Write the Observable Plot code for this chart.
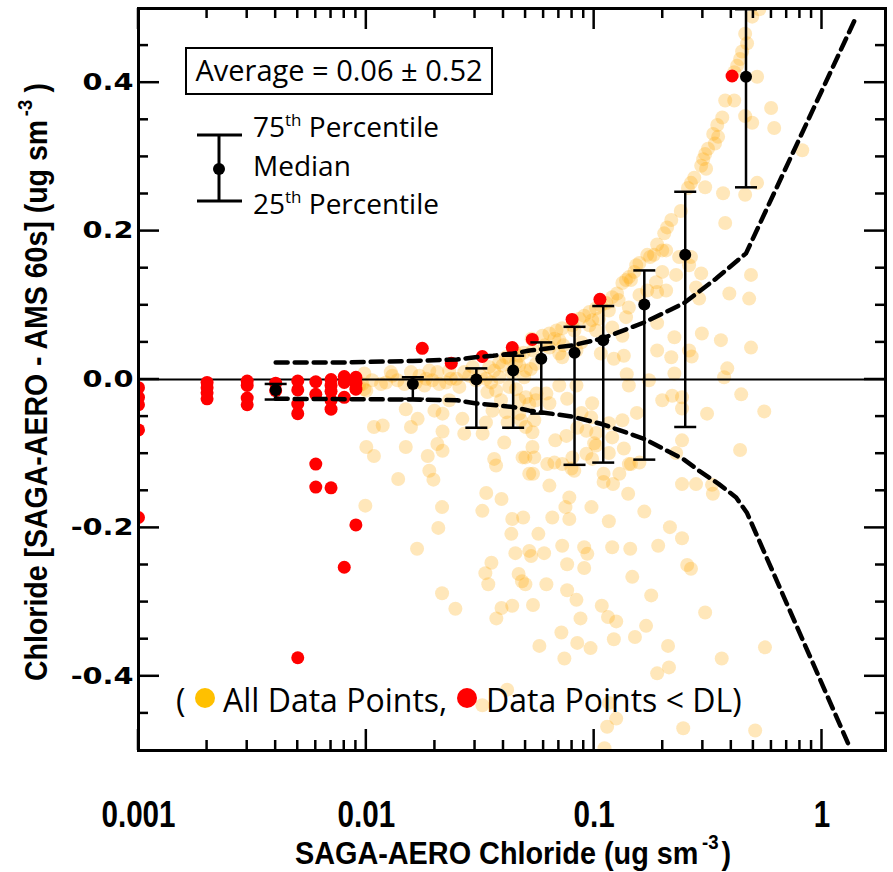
<!DOCTYPE html>
<html>
<head>
<meta charset="utf-8">
<script src="https://cdn.jsdelivr.net/npm/d3@7"></script>
<script src="https://cdn.jsdelivr.net/npm/@observablehq/plot@0.6"></script>
<style>
  html, body { margin: 0; padding: 0; background: white; }
</style>
</head>
<body>
<div id="chart"></div>
<script>
// ---- Data ----
// All data points (x = SAGA-AERO chloride, y = SAGA-AERO - AMS difference)
const allPts = [
[0.0098,0.008],[0.0098,-0.013],[0.0128,0.010],[0.0116,-0.006],[0.0137,-0.001],[0.0157,0.010],[0.0171,0.005],[0.0189,0.012],[0.0195,-0.001],[0.0205,0.010],
[0.0209,-0.006],[0.0180,-0.008],[0.0231,0.012],[0.0235,0.001],[0.0256,-0.010],[0.0269,0.010],[0.0283,0.005],[0.0293,0.017],[0.0335,0.001],[0.0346,0.017],
[0.0364,0.012],[0.0383,0.003],[0.0396,0.019],[0.0410,0.030],[0.0454,0.023],[0.0469,0.019],[0.0501,0.012],[0.0527,0.014],[0.0555,0.021],[0.0371,-0.015],
[0.0424,-0.010],[0.0454,-0.013],[0.0340,-0.017],[0.0390,-0.028],[0.0469,-0.028],[0.0501,-0.024],[0.0519,-0.033],[0.0555,-0.028],
[0.0108,-0.064],[0.0118,-0.062],[0.0157,-0.064],[0.0168,-0.053],[0.0149,-0.040],[0.0199,-0.042],[0.0216,-0.070],[0.0216,-0.046],[0.0231,-0.028],[0.0264,-0.053],
[0.0269,-0.073],[0.0324,-0.073],[0.0335,-0.058],[0.0358,-0.042],[0.0410,-0.044],[0.0417,-0.058],[0.0469,-0.046],[0.0477,-0.055],[0.0501,-0.064],[0.0536,-0.071],
[0.0546,-0.055],[0.0100,-0.091],[0.0108,-0.103],[0.0149,-0.091],[0.0186,-0.103],[0.0205,-0.087],[0.0216,-0.096],[0.0364,-0.107],[0.0403,-0.085],[0.0485,-0.105],
[0.0536,-0.091],[0.0546,-0.105],
[0.0093,-0.008],[0.0106,-0.001],[0.0122,-0.004],[0.0130,0.005],[0.0147,-0.006],[0.0165,-0.004],[0.0183,0.001],[0.0224,-0.004],[0.0248,0.001],[0.0303,-0.001],
[0.0318,0.005],[0.0353,-0.004],[0.0436,0.009],[0.0493,0.003],[0.0100,-0.015],[0.0096,-0.006],
[0.0189,-0.123],[0.0197,-0.135],[0.0138,-0.134],[0.0099,-0.170],[0.0215,-0.172],[0.0207,-0.200],[0.0371,-0.116],[0.0336,-0.153],[0.0392,-0.161],[0.0323,-0.177],
[0.0437,-0.188],[0.0519,-0.127],
[0.0433,-0.208],[0.0167,-0.228],[0.0354,-0.247],[0.0333,-0.261],[0.0343,-0.276],[0.0451,-0.234],[0.0466,-0.262],[0.0482,-0.272],[0.0215,-0.288],[0.0246,-0.309],
[0.0392,-0.308],[0.0437,-0.305],[0.0372,-0.322],[0.0415,-0.418],[0.0323,-0.439],
[0.0488,-0.186],[0.0519,-0.231],[0.0529,-0.238],[0.0569,-0.208],[0.0603,-0.234],[0.0499,-0.276],[0.0617,-0.276],[0.0539,-0.304],[0.0499,-0.105],[0.0539,-0.127],
[0.0636,-0.143],[0.0623,-0.114],[0.0669,-0.112],[0.0675,-0.082],[0.0778,-0.159],[0.0748,-0.172],[0.0655,-0.186],[0.0778,-0.188],[0.0724,-0.224],[0.0761,-0.249],
[0.0904,-0.226],[0.0933,-0.235],[0.0904,-0.254],[0.0761,-0.284],[0.0836,-0.297],[0.0871,-0.322],[0.0718,-0.341],[0.0843,-0.355],[0.0964,-0.362],[0.0575,-0.359],
[0.0740,-0.376],[0.0973,-0.172],[0.0795,-0.120],[0.0818,-0.123],[0.0925,-0.100],[0.0980,-0.107],[0.102,-0.089],[0.116,-0.099],[0.110,-0.127],[0.110,-0.138],
[0.121,-0.141],[0.116,-0.191],[0.120,-0.226],[0.108,-0.305],[0.115,-0.320],[0.125,-0.326],[0.122,-0.350],[0.116,-0.436],[0.114,-0.468],[0.125,-0.457],
[0.111,-0.497],
[0.243,-0.141],[0.280,-0.141],[0.329,-0.142],[0.332,-0.154],[0.141,-0.154],[0.166,-0.178],[0.144,-0.228],[0.191,-0.224],[0.215,-0.199],[0.243,-0.214],
[0.147,-0.266],[0.178,-0.291],[0.256,-0.250],[0.266,-0.255],[0.151,-0.347],[0.169,-0.332],[0.307,-0.314],[0.211,-0.359],[0.213,-0.388],[0.189,-0.396],
[0.363,-0.376],[0.562,-0.361],[0.246,-0.470],[0.509,-0.473],
[0.133,-0.055],[0.135,-0.093],[0.145,-0.114],[0.158,-0.112],[0.129,-0.127],[0.229,-0.099],[0.243,-0.082],[0.437,-0.095],
[0.0636,0.043],[0.0703,0.035],[0.0724,0.030],[0.0836,0.039],[0.0879,0.050],[0.0980,0.080],[0.102,0.066],[0.107,0.035],[0.120,0.070],[0.122,0.028],
[0.135,0.032],[0.133,0.059],[0.138,0.084],[0.142,0.097],[0.145,0.134],[0.158,0.114],[0.171,0.120],[0.187,0.131],[0.199,0.145],[0.207,0.120],
[0.189,0.118],[0.229,0.141],[0.261,0.154],[0.280,0.124],[0.289,0.109],[0.295,0.143],[0.189,0.076],[0.225,0.057],[0.189,0.039],[0.218,0.030],
[0.261,0.039],[0.268,0.031],[0.297,0.062],[0.360,0.053],[0.392,0.116],[0.479,0.109],[0.488,0.141],[0.488,0.043],[0.384,0.015],[0.372,0.003],
[0.225,0.008],[0.139,0.007],[0.142,-0.008],[0.174,-0.001],[0.199,-0.028],[0.220,-0.022],[0.243,-0.024],[0.243,-0.039],[0.154,-0.045],[0.313,-0.046],
[0.442,-0.020],[0.558,-0.043],[0.0703,-0.008],[0.0761,-0.026],[0.0836,-0.008],[0.088,-0.045],[0.098,-0.032],[0.097,-0.051],[0.0843,-0.065],[0.0925,-0.069],
[0.102,-0.072],[0.116,-0.059],[0.120,-0.078],[0.100,-0.086],[0.0803,-0.105],[0.0724,-0.114],[0.0617,-0.019],[0.0636,-0.032],[0.0558,-0.019],[0.0755,-0.076],
[0.142,-0.114],
[0.0531,0.055],[0.0593,0.059],[0.0636,0.062],[0.0683,0.066],[0.0724,0.069],[0.0803,0.073],[0.0862,0.082],[0.0904,0.086],[0.0953,0.091],[0.102,0.096],
[0.107,0.100],[0.113,0.103],[0.120,0.111],[0.126,0.116],[0.133,0.130],[0.138,0.134],[0.142,0.138],[0.150,0.145],[0.153,0.154],[0.158,0.157],
[0.171,0.168],[0.183,0.168],[0.199,0.174],
[0.0703,0.053],[0.0819,0.066],[0.0953,0.073],[0.105,0.082],[0.116,0.093],[0.128,0.107],[0.0606,0.046],[0.0539,0.039],[0.049,0.036],[0.0469,0.032],
[0.0424,0.028],[0.0383,0.023],[0.0445,0.039],[0.0669,0.055],[0.0733,0.046],
[0.531,0.499],[0.494,0.489],[0.460,0.466],[0.469,0.453],[0.446,0.442],[0.437,0.432],[0.424,0.423],[0.412,0.414],[0.519,0.408],[0.376,0.376],
[0.412,0.376],[0.365,0.353],[0.347,0.343],[0.333,0.331],[0.350,0.327],[0.339,0.318],[0.316,0.311],[0.307,0.304],[0.301,0.297],[0.295,0.288],
[0.310,0.284],[0.275,0.272],[0.266,0.265],[0.258,0.258],[0.307,0.259],[0.368,0.251],[0.460,0.249],[0.519,0.265],[0.598,0.366],[0.617,0.339],
[0.494,0.346],[0.460,0.355],[0.819,0.309],[0.376,0.211],[0.240,0.227],[0.218,0.215],[0.209,0.205],[0.203,0.197],[0.189,0.182],[0.176,0.165],
[0.207,0.174],[0.236,0.165],[0.266,0.165]
];

// Data points below detection limit
const dlPts = [
[0.001,-0.011],[0.001,-0.024],[0.001,-0.034],[0.001,-0.068],[0.001,-0.186],
[0.002,-0.004],[0.002,-0.011],[0.002,-0.018],[0.002,-0.026],
[0.003,-0.002],[0.003,-0.008],[0.003,-0.025],[0.003,-0.034],
[0.004,-0.005],[0.004,-0.015],
[0.005,-0.002],[0.005,-0.014],[0.005,-0.033],[0.005,-0.046],[0.005,-0.375],
[0.006,-0.003],[0.006,-0.020],[0.006,-0.114],[0.006,-0.145],
[0.007,0.000],[0.007,-0.008],[0.007,-0.016],[0.007,-0.028],[0.007,-0.040],[0.007,-0.146],
[0.008,0.004],[0.008,-0.004],[0.008,-0.024],[0.008,-0.253],
[0.009,0.003],[0.009,-0.005],[0.009,-0.013],[0.009,-0.196],
[0.0176,0.042],[0.0236,0.022],[0.0323,0.031],[0.0437,0.043],[0.0535,0.054],[0.080,0.081],[0.106,0.108],[0.403,0.409]
];

// Binned statistics
const binX   = [0.004, 0.016, 0.0304, 0.0441, 0.0586, 0.082, 0.1096, 0.166, 0.251, 0.464];
const binMed = [-0.014, -0.006, 0.000, 0.012, 0.028, 0.036, 0.053, 0.101, 0.168, 0.408];
const binQ25 = [-0.027, -0.026, -0.065, -0.065, -0.046, -0.115, -0.112, -0.108, -0.064, 0.259];
const binQ75 = [-0.006, 0.003, 0.015, 0.032, 0.050, 0.071, 0.099, 0.147, 0.253, 0.499];

// Dashed uncertainty envelope
const upperEnv = [[0.004,0.023],[0.008,0.023],[0.016,0.025],[0.025,0.027],[0.030,0.030],[0.036,0.032],[0.044,0.035],[0.052,0.039],[0.080,0.046],[0.108,0.055],[0.166,0.077],[0.213,0.093],[0.248,0.103],[0.343,0.136],[0.464,0.170],[1.40,0.486]];
const lowerEnv = [[0.004,-0.026],[0.016,-0.027],[0.025,-0.028],[0.030,-0.032],[0.044,-0.037],[0.052,-0.042],[0.080,-0.050],[0.108,-0.060],[0.166,-0.080],[0.248,-0.108],[0.289,-0.123],[0.353,-0.141],[0.420,-0.159],[0.469,-0.180],[1.30,-0.490]];

// Axis ticks
const xMajor = [0.001, 0.01, 0.1, 1];
const xMinor = [0.002,0.003,0.004,0.005,0.006,0.007,0.008,0.009,0.02,0.03,0.04,0.05,0.06,0.07,0.08,0.09,0.2,0.3,0.4,0.5,0.6,0.7,0.8,0.9];
const yMajor = [-0.4, -0.2, 0, 0.2, 0.4];
const yMinor = [-0.45,-0.35,-0.3,-0.25,-0.15,-0.1,-0.05,0.05,0.1,0.15,0.25,0.3,0.35,0.45];

const bins = binX.map((x, i) => ({x, median: binMed[i], q25: binQ25[i], q75: binQ75[i]}));

const W = 893, H = 872, mL = 138, mR = 8, mT = 8, mB = 122;
const majLen = 21, minLen = 10;

const capSymbol = { draw(ctx) { ctx.moveTo(-11, 0); ctx.lineTo(11, 0); } };

const chart = Plot.plot({
  width: W, height: H,
  marginLeft: mL, marginRight: mR, marginTop: mT, marginBottom: mB,
  style: { background: "white", overflow: "visible" },
  x: { type: "log", domain: [0.001, 1.9], label: null },
  y: { domain: [-0.5, 0.5], label: null },
  marks: [
    Plot.dot(allPts, { x: d => d[0], y: d => d[1], r: 7, fill: "#FFA800", fillOpacity: 0.27, clip: true }),
    Plot.ruleY([0], { stroke: "black", strokeWidth: 2 }),
    Plot.dot(dlPts, { x: d => d[0], y: d => d[1], r: 6.5, fill: "#FF0000", clip: true }),
    Plot.line(upperEnv, { x: d => d[0], y: d => d[1], stroke: "black", strokeWidth: 4.5, strokeDasharray: "12,7", clip: true }),
    Plot.line(lowerEnv, { x: d => d[0], y: d => d[1], stroke: "black", strokeWidth: 4.5, strokeDasharray: "12,7", clip: true }),
    Plot.ruleX(bins, { x: "x", y1: "q25", y2: "q75", stroke: "black", strokeWidth: 2.5 }),
    Plot.dot(bins, { x: "x", y: "q25", symbol: capSymbol, fill: "none", stroke: "black", strokeWidth: 2.5 }),
    Plot.dot(bins, { x: "x", y: "q75", symbol: capSymbol, fill: "none", stroke: "black", strokeWidth: 2.5 }),
    Plot.dot(bins, { x: "x", y: "median", r: 6, fill: "black" }),
    Plot.frame({ stroke: "black", strokeWidth: 3 }),
    Plot.axisX({ ticks: xMajor, tickSize: 0, tickPadding: 50, tickFormat: d => String(d), label: null,
      fontSize: 37, fontWeight: "bold", fontFamily: "'Liberation Sans', Arial, sans-serif", fill: "black" }),
    Plot.axisY({ ticks: yMajor, tickSize: 0, tickPadding: 5, tickFormat: d => d.toFixed(1), label: null,
      fontSize: 23, fontWeight: "bold", fontFamily: "'DejaVu Sans', Verdana, sans-serif", fill: "black" })
  ]
});

document.getElementById("chart").appendChild(chart);

const svg = d3.select(chart);

// condense x tick labels, widen y tick labels (as in the reference typography)
svg.selectAll('g[aria-label="x-axis tick label"] text').each(function() {
  const t = this.getAttribute("transform") || "";
  this.setAttribute("transform", t + " scale(0.8,1)");
});
svg.selectAll('g[aria-label="y-axis tick label"] text').each(function() {
  const t = this.getAttribute("transform") || "";
  this.setAttribute("transform", t + " scale(1.25,1)");
});

// ---- Inward ticks on all four sides, placed with Plot's own scales ----
const sx = chart.scale("x"), sy = chart.scale("y");
const yBot = H - mB, yTop = mT, xLeft = mL, xRight = W - mR;
const tg = svg.append("g").attr("stroke", "black").attr("stroke-width", 2.5);
function xTicks(vals, len) {
  for (const v of vals) {
    const px = sx.apply(v);
    tg.append("line").attr("x1", px).attr("x2", px).attr("y1", yBot).attr("y2", yBot - len);
    tg.append("line").attr("x1", px).attr("x2", px).attr("y1", yTop).attr("y2", yTop + len);
  }
}
function yTicks(vals, len) {
  for (const v of vals) {
    const py = sy.apply(v);
    tg.append("line").attr("y1", py).attr("y2", py).attr("x1", xLeft).attr("x2", xLeft + len);
    tg.append("line").attr("y1", py).attr("y2", py).attr("x1", xRight).attr("x2", xRight - len);
  }
}
xTicks(xMajor, majLen); xTicks(xMinor, minLen);
yTicks(yMajor, majLen); yTicks(yMinor, minLen);

// ---- Titles and in-plot legends ----
const titleFont = "'Liberation Sans', Arial, sans-serif";
const legendFont = "'Open Sans', 'Noto Sans', sans-serif";

// x-axis title
const xt = svg.append("text")
  .attr("transform", "translate(513,864) scale(0.93,1)")
  .attr("text-anchor", "middle")
  .attr("font-family", titleFont).attr("font-weight", "bold").attr("font-size", 31).attr("fill", "black");
xt.append("tspan").text("SAGA-AERO Chloride (ug sm");
xt.append("tspan").attr("dy", -15).attr("dx", 4).attr("font-size", 20).text("-3");
xt.append("tspan").attr("dy", 15).attr("dx", 3).text(")");

// y-axis title
const yt = svg.append("text")
  .attr("transform", "translate(47,382) rotate(-90) scale(0.92,1)")
  .attr("text-anchor", "middle")
  .attr("font-family", titleFont).attr("font-weight", "bold").attr("font-size", 31).attr("fill", "black");
yt.append("tspan").text("Chloride [SAGA-AERO - AMS 60s] (ug sm");
yt.append("tspan").attr("dy", -15).attr("dx", 4).attr("font-size", 20).text("-3");
yt.append("tspan").attr("dy", 15).attr("dx", 8).text(")");

// Average box
svg.append("rect").attr("x", 186).attr("y", 48).attr("width", 306).attr("height", 46)
  .attr("fill", "white").attr("stroke", "black").attr("stroke-width", 2);
svg.append("text").attr("x", 339).attr("y", 81).attr("text-anchor", "middle")
  .attr("font-family", legendFont).attr("font-size", 29).attr("fill", "black")
  .text("Average = 0.06 \u00B1 0.52");

// Error-bar legend symbol
const lg = svg.append("g").attr("stroke", "black").attr("stroke-width", 3);
lg.append("line").attr("x1", 219).attr("x2", 219).attr("y1", 135).attr("y2", 201);
lg.append("line").attr("x1", 197).attr("x2", 242).attr("y1", 135).attr("y2", 135);
lg.append("line").attr("x1", 197).attr("x2", 242).attr("y1", 201).attr("y2", 201);
svg.append("circle").attr("cx", 219).attr("cy", 169).attr("r", 6).attr("fill", "black");

function pctText(y, num) {
  const t = svg.append("text").attr("x", 253).attr("y", y).attr("text-anchor", "start")
    .attr("font-family", legendFont).attr("font-size", 28).attr("fill", "black");
  t.append("tspan").text(num);
  t.append("tspan").attr("dy", -11).attr("font-size", 17).text("th");
  t.append("tspan").attr("dy", 11).text(" Percentile");
}
pctText(137, "75");
svg.append("text").attr("x", 253).attr("y", 176).attr("text-anchor", "start")
  .attr("font-family", legendFont).attr("font-size", 28).attr("fill", "black").text("Median");
pctText(214, "25");

// Bottom legend
svg.append("text").attr("x", 176).attr("y", 712).attr("text-anchor", "start")
  .attr("font-family", legendFont).attr("font-size", 32).attr("fill", "black").text("(");
svg.append("circle").attr("cx", 205).attr("cy", 698).attr("r", 10).attr("fill", "#FFC000");
svg.append("text").attr("x", 223).attr("y", 712).attr("text-anchor", "start")
  .attr("font-family", legendFont).attr("font-size", 32).attr("fill", "black").text("All Data Points,");
svg.append("circle").attr("cx", 467).attr("cy", 698).attr("r", 10).attr("fill", "#FF0000");
svg.append("text").attr("x", 486).attr("y", 712).attr("text-anchor", "start")
  .attr("font-family", legendFont).attr("font-size", 32).attr("fill", "black").text("Data Points < DL)");
</script>
</body>
</html>
